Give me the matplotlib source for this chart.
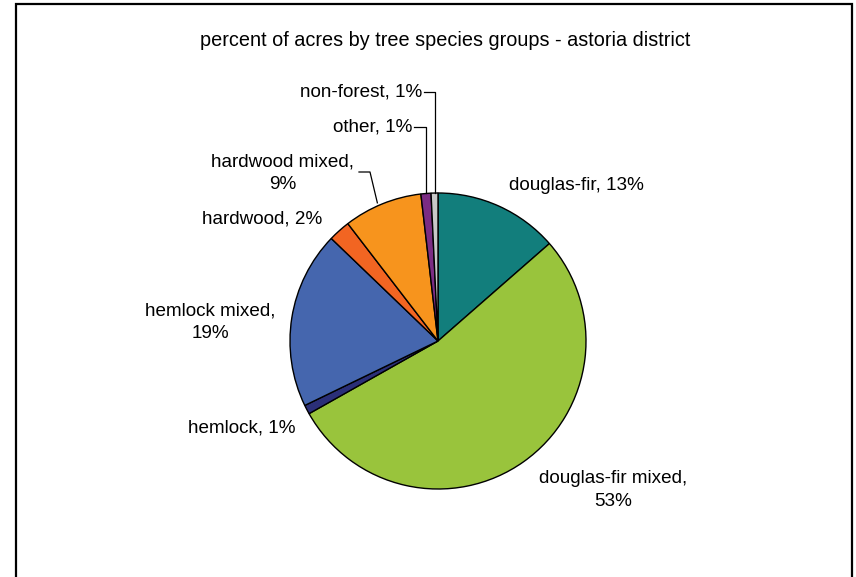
import matplotlib.pyplot as plt
import matplotlib.patches as mpatches
import numpy as np

plt.rcParams["font.family"] = ["Liberation Sans", "DejaVu Sans"]

species = ["douglas-fir", "douglas-fir mixed", "hemlock", "hemlock mixed",
           "hardwood", "hardwood mixed", "other", "non-forest"]
percent = [13.6, 53.4, 1.0, 19.4, 2.4, 8.6, 1.1, 0.75]
shown_pct = [13, 53, 1, 19, 2, 9, 1, 1]
colors = ["#127e7c", "#99c43c", "#2b2f78", "#4566ae", "#f26522", "#f7941d",
          "#7b2c83", "#c8c8c8"]

W, H = 856, 577
cx, cy, r = 438, H - 341, 148

fig = plt.figure(figsize=(W / 100, H / 100), dpi=100)
ax = fig.add_axes([0, 0, 1, 1])

wedges, _ = ax.pie(percent, colors=colors, startangle=90, counterclock=False,
                   center=(cx, cy), radius=r,
                   wedgeprops=dict(edgecolor="black", linewidth=1.0))

# pie() resets the limits, so set them afterwards
ax.set_xlim(0, W)
ax.set_ylim(0, H)
ax.set_aspect("equal")
ax.axis("off")

# outer frame (bottom edge falls outside the picture)
ax.add_patch(mpatches.Rectangle((16.5, -20), 836, H - 3 + 20 - 0.5, fill=False,
                                edgecolor="black", lw=1.6))

ax.text(445, H - 40, "percent of acres by tree species groups - astoria district",
        ha="center", va="center", fontsize=14.3)

# label layout: (x, y in px from top, ha, leader?)
layout = [
    (509, 186, "left", False),
    (613, 490, "center", False),
    (296, 428, "right", False),
    (210, 322, "center", False),
    (322, 219, "right", False),
    (283, 173, "center", True),
    (412, 127, "right", True),
    (422, 92, "right", True),
]
two_line = {1, 3, 5}

for i, (w, name, pct) in enumerate(zip(wedges, species, shown_pct)):
    x, y, ha, leader = layout[i]
    if i in two_line:
        label = f"{name},\n{pct}%"
    else:
        label = f"{name}, {pct}%"
    y = H - y
    if leader:
        mid = np.deg2rad((w.theta1 + w.theta2) / 2)
        px, py = cx + r * np.cos(mid), cy + r * np.sin(mid)
        if i == 5:
            ax.plot([x + 76, x + 87, px - 5], [y + 1, y + 1, py + 1],
                    color="black", lw=0.9)
        else:
            ax.plot([x + 2, px, px], [y, y, py], color="black", lw=0.9)
    ax.text(x, y, label, ha=ha, va="center", fontsize=13.6, linespacing=1.45,
            multialignment="center")

fig.savefig("out.png", dpi=100)
